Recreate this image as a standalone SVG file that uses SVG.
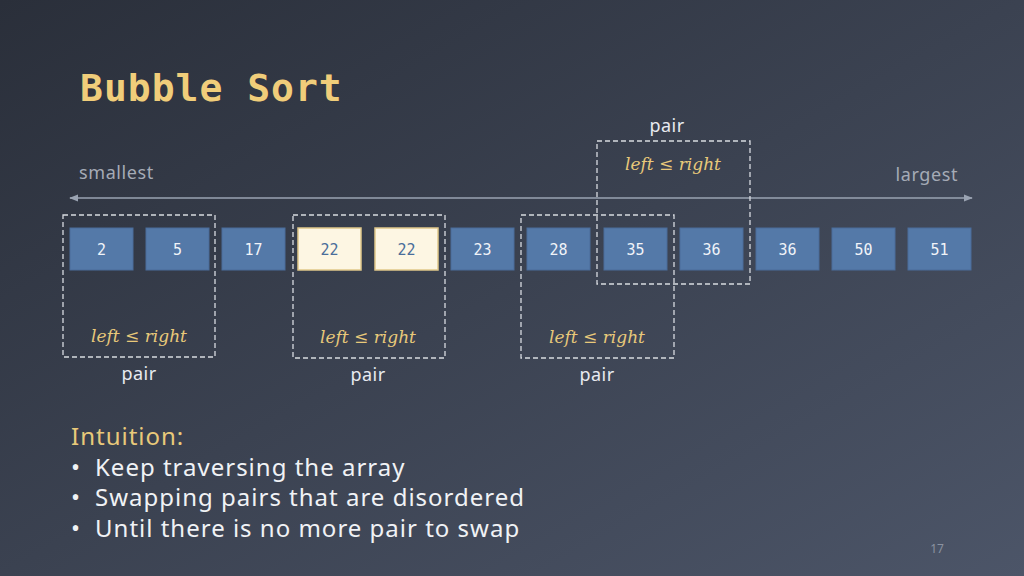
<svg xmlns="http://www.w3.org/2000/svg" width="1024" height="576" viewBox="0 0 1024 576">
<defs>
<linearGradient id="bg" x1="0" y1="0" x2="1" y2="1">
<stop offset="0" stop-color="#2a2f3a"/><stop offset="1" stop-color="#4c5568"/>
</linearGradient>
<marker id="ah" viewBox="0 0 10 10" refX="9" refY="5" markerWidth="6" markerHeight="6" orient="auto-start-reverse"><path d="M0,1 L10,5 L0,9 z" fill="#9aa3b2"/></marker>
<style>
.c{fill:#5479a8;stroke:#4a6d9a;stroke-width:1}
.y{fill:#fdf6e3;stroke:#e0c88a;stroke-width:1.5}
.n{font-family:"DejaVu Sans Mono",monospace;font-size:15px;text-anchor:middle;fill:#f0f3f8}
.ny{fill:#4a6d9a}
.d{fill:none;stroke:#d8dbe0;stroke-width:1.3;stroke-dasharray:5 3}
.m{font-family:"DejaVu Serif","Liberation Serif",serif;font-style:italic;font-size:17px;fill:#e8c97a;text-anchor:middle}
.l{font-family:"Noto Sans","Liberation Sans",sans-serif;font-size:18px;fill:#e8ebf0;text-anchor:middle;letter-spacing:0.5px}
.g{font-family:"Noto Sans","Liberation Sans",sans-serif;font-size:18px;fill:#a5abb6;letter-spacing:0.6px}
.b{font-family:"Noto Sans","Liberation Sans",sans-serif;font-size:24px;fill:#f0f2f5;letter-spacing:1px}
</style>
</defs>
<rect width="1024" height="576" fill="url(#bg)"/>
<text x="80" y="101" font-family="DejaVu Sans Mono,monospace" font-size="38" font-weight="bold" fill="#f0cd7a" letter-spacing="1">Bubble Sort</text>
<text x="79" y="179" class="g">smallest</text>
<text x="958" y="181" class="g" text-anchor="end">largest</text>
<g id="connectors"><line x1="70" y1="198" x2="972" y2="198" stroke="#9aa3b2" stroke-width="1.5" marker-start="url(#ah)" marker-end="url(#ah)"/></g>
<g id="cells">
<g id="c0"><rect class="c" x="70" y="228" width="63" height="42"/><text class="n" x="101.5" y="255">2</text></g>
<g id="c1"><rect class="c" x="146" y="228" width="63" height="42"/><text class="n" x="177.5" y="255">5</text></g>
<g id="c2"><rect class="c" x="222" y="228" width="63" height="42"/><text class="n" x="253.5" y="255">17</text></g>
<g id="c3"><rect class="y" x="298" y="228" width="63" height="42"/><text class="n ny" x="329.5" y="255">22</text></g>
<g id="c4"><rect class="y" x="375" y="228" width="63" height="42"/><text class="n ny" x="406.5" y="255">22</text></g>
<g id="c5"><rect class="c" x="451" y="228" width="63" height="42"/><text class="n" x="482.5" y="255">23</text></g>
<g id="c6"><rect class="c" x="527" y="228" width="63" height="42"/><text class="n" x="558.5" y="255">28</text></g>
<g id="c7"><rect class="c" x="604" y="228" width="63" height="42"/><text class="n" x="635.5" y="255">35</text></g>
<g id="c8"><rect class="c" x="680" y="228" width="63" height="42"/><text class="n" x="711.5" y="255">36</text></g>
<g id="c9"><rect class="c" x="756" y="228" width="63" height="42"/><text class="n" x="787.5" y="255">36</text></g>
<g id="c10"><rect class="c" x="832" y="228" width="63" height="42"/><text class="n" x="863.5" y="255">50</text></g>
<g id="c11"><rect class="c" x="908" y="228" width="63" height="42"/><text class="n" x="939.5" y="255">51</text></g>
</g>
<g id="p1"><rect class="d" x="63" y="215" width="152" height="142"/><text class="m" x="139" y="342">left ≤ right</text><text class="l" x="139" y="380">pair</text></g>
<g id="p2"><rect class="d" x="293" y="215" width="152" height="143"/><text class="m" x="368" y="343">left ≤ right</text><text class="l" x="368" y="381">pair</text></g>
<g id="p3"><rect class="d" x="521" y="215" width="153" height="143"/><text class="m" x="597" y="343">left ≤ right</text><text class="l" x="597" y="381">pair</text></g>
<g id="p4"><rect class="d" x="597" y="141" width="153" height="143"/><text class="m" x="673" y="170">left ≤ right</text><text class="l" x="667" y="132">pair</text></g>
<text x="71" y="445" font-family="Noto Sans,Liberation Sans,sans-serif" font-size="24" fill="#e8c97a" letter-spacing="1">Intuition:</text>
<g class="b">
<text x="71" y="476">•</text><text x="95" y="476">Keep traversing the array</text>
<text x="71" y="506">•</text><text x="95" y="506">Swapping pairs that are disordered</text>
<text x="71" y="537">•</text><text x="95" y="537">Until there is no more pair to swap</text>
</g>
<text x="937" y="553" font-family="Noto Sans,sans-serif" font-size="12" fill="#8a92a0" text-anchor="middle">17</text>
</svg>
